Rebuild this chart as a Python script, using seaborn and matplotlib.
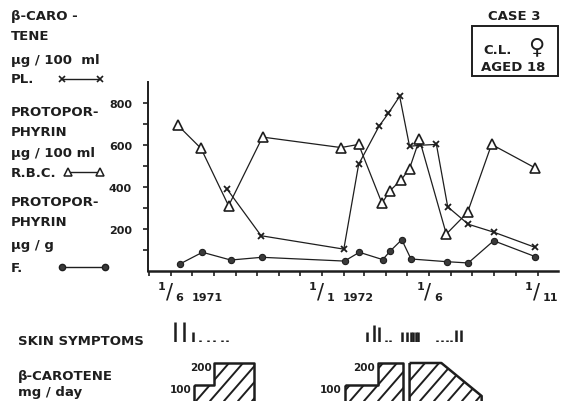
import matplotlib
matplotlib.use("Agg")
import matplotlib.pyplot as plt
import matplotlib.dates as mdates
from matplotlib.lines import Line2D
from matplotlib.patches import Rectangle
from matplotlib.transforms import IdentityTransform
import pandas as pd
import seaborn as sns

# Plasma beta-carotene, µg/100 ml
carotene_dates = ["1971-08-20", "1971-10-07", "1972-02-01", "1972-02-22", "1972-03-22",
                  "1972-04-04", "1972-04-20", "1972-05-04", "1972-05-19", "1972-06-11",
                  "1972-06-27", "1972-07-26", "1972-09-01", "1972-10-29"]
carotene_values = [388, 166, 102, 507, 690, 750, 832, 593, 598, 602, 304, 221, 182, 110]

# Erythrocyte protoporphyrin, µg/100 ml R.B.C.
rbc_dates = ["1971-06-11", "1971-07-14", "1971-08-22", "1971-10-09", "1972-01-28",
             "1972-02-22", "1972-03-26", "1972-04-06", "1972-04-22", "1972-05-04",
             "1972-05-18", "1972-06-25", "1972-07-25", "1972-08-28", "1972-10-28"]
rbc_values = [694, 583, 309, 637, 587, 602, 321, 380, 432, 487, 626, 174, 277, 602, 491]

# Faecal protoporphyrin, µg/g
faeces_dates = ["1971-06-14", "1971-07-16", "1971-08-25", "1971-10-08", "1972-02-02",
                "1972-02-23", "1972-03-27", "1972-04-07", "1972-04-23", "1972-05-06",
                "1972-06-26", "1972-07-26", "1972-08-31", "1972-10-29"]
faeces_values = [31, 87, 50, 63, 45, 87, 52, 94, 147, 55, 42, 36, 142, 66]

# Skin symptoms (severity grade per observation)
skin_dates = ["1971-06-07", "1971-06-20", "1971-07-02", "1971-07-13", "1971-07-24",
              "1971-08-02", "1971-08-12", "1971-08-20",
              "1972-03-05", "1972-03-15", "1972-03-22", "1972-04-01", "1972-04-07",
              "1972-04-24", "1972-04-30", "1972-05-06", "1972-05-09", "1972-05-13",
              "1972-05-16", "1972-06-12", "1972-06-19", "1972-06-26", "1972-07-02",
              "1972-07-09", "1972-07-16"]
skin_grades = [4, 4, 2, 0.5, 0.5, 0.5, 0.5, 0.5,
               2, 3.4, 3, 0.5, 0.5,
               2, 2, 2, 2, 2,
               2, 0.5, 0.5, 0.5, 0.5,
               2.4, 2.4]

# Beta-carotene dosage, mg/day
dose1_dates = ["1971-07-04", "1971-08-02", "1971-08-02", "1971-09-27"]
dose1_mg = [100, 100, 200, 200]
dose2_dates = ["1972-02-02", "1972-03-20", "1972-03-20", "1972-04-25"]
dose2_mg = [100, 100, 200, 200]
dose3_dates = ["1972-05-04", "1972-06-18", "1972-08-14", "1972-08-14"]
dose3_mg = [200, 200, 50, 0]

# Date labels on the time axis
label_dates = ["1971-06-01", "1972-01-01", "1972-06-01", "1972-11-01"]
label_days = ["1", "1", "1", "1"]
label_months = ["6", "1", "6", "11"]
label_years = ["1971", "1972", "", ""]

y_major = [200, 400, 600, 800]
y_minor = [100, 300, 500, 700]

sns.set_style("white")
plt.rcParams["font.family"] = ["DejaVu Sans"]
INK = "#1e1e1e"

W, H = 564, 402
fig = plt.figure(figsize=(W / 100, H / 100), dpi=100)
fig.patch.set_facecolor("white")


def fx(px):
    return px / W


def fy(py):
    return 1 - py / H


left, right = 148, 558
ax = fig.add_axes([fx(left), fy(271.5), fx(right - left), (271.5 - 83) / H])

line_kw = dict(color=INK, linewidth=0.9, estimator=None, ax=ax, legend=False)
df_car = pd.DataFrame({"date": pd.to_datetime(carotene_dates), "value": carotene_values})
df_rbc = pd.DataFrame({"date": pd.to_datetime(rbc_dates), "value": rbc_values})
df_fae = pd.DataFrame({"date": pd.to_datetime(faeces_dates), "value": faeces_values})

sns.lineplot(data=df_car, x="date", y="value", marker="x", markersize=4.5,
             markeredgewidth=1.3, markeredgecolor=INK, **line_kw)
sns.lineplot(data=df_rbc, x="date", y="value", marker="^", markersize=7.5,
             markerfacecolor="white", markeredgecolor=INK, markeredgewidth=1.2, **line_kw)
sns.lineplot(data=df_fae, x="date", y="value", marker="o", markersize=4.5,
             markerfacecolor="#3a3a3a", markeredgecolor=INK, markeredgewidth=0.8, **line_kw)

ax.set_ylim(0, 900)
ax.set_xlim(pd.Timestamp("1971-04-30"), pd.Timestamp("1972-11-30"))
ax.set_xlabel("")
ax.set_ylabel("")
for side in ("top", "right"):
    ax.spines[side].set_visible(False)
ax.spines["left"].set_linewidth(1.4)
ax.spines["bottom"].set_linewidth(1.8)
ax.spines["left"].set_color(INK)
ax.spines["bottom"].set_color(INK)

ax.set_yticks(y_major)
ax.set_yticks(y_minor, minor=True)
ax.set_yticklabels([str(v) for v in y_major], fontsize=8, fontweight="bold", color=INK)
ax.tick_params(axis="y", which="both", direction="out", length=3.6, width=1.2,
               color=INK, pad=8, left=True)

ax.xaxis.set_major_locator(mdates.MonthLocator())
ax.xaxis.set_major_formatter(plt.NullFormatter())
ax.tick_params(axis="x", which="both", direction="out", length=3.6, width=1.2,
               color=INK, bottom=True)
ax.grid(False)

# Hand-lettered style date labels: day / month, with year alongside
for when, num, den, year in zip(label_dates, label_days, label_months, label_years):
    x = mdates.date2num(pd.Timestamp(when))
    base = dict(xy=(x, 0), xycoords=("data", "axes fraction"),
                textcoords="offset points", annotation_clip=False, color=INK)
    ax.annotate(num, xytext=(-3.6, -11), ha="right", va="center",
                fontsize=8, fontweight="bold", **base)
    ax.annotate("/", xytext=(-1, -15), ha="center", va="center",
                fontsize=15, **base)
    ax.annotate(den, xytext=(3.6, -19), ha="left", va="center",
                fontsize=8, fontweight="bold", **base)
    if year:
        ax.annotate(year, xytext=(15, -19), ha="left", va="center",
                    fontsize=8, fontweight="bold", **base)

# Skin symptoms strip
ax_skin = fig.add_axes([fx(left), fy(343), fx(right - left), 20 / H], sharex=ax)
ax_skin.vlines(pd.to_datetime(skin_dates), 0, skin_grades, color=INK, linewidth=1.8)
ax_skin.set_ylim(0, 4)
ax_skin.axis("off")

# Beta-carotene dosage strip, outlined and hand-hatched
ax_dose = fig.add_axes([fx(left), 0, fx(right - left), 52 / H], sharex=ax)
for dates, mg in ((dose1_dates, dose1_mg), (dose2_dates, dose2_mg), (dose3_dates, dose3_mg)):
    d = pd.to_datetime(dates)
    coll = ax_dose.fill_between(d, 0, mg, facecolor="none", edgecolor=INK,
                                linewidth=1.8, zorder=3)
    clip = coll.get_paths()[0]
    for k in range(-10, 45):
        x0 = k * 14
        hatch = Line2D([x0, x0 + 120], [0, 120 * 1.15], transform=IdentityTransform(),
                       color=INK, linewidth=1.4, zorder=2)
        hatch.set_clip_path(clip, ax_dose.transData)
        ax_dose.add_artist(hatch)
ax_dose.set_ylim(27.3, 263.6)
ax_dose.axis("off")

for dates, mg in ((dose1_dates, dose1_mg), (dose2_dates, dose2_mg)):
    d = pd.to_datetime(dates)
    for level in (100, 200):
        i = mg.index(level)
        ax_dose.annotate(str(level), xy=(d[i], level), xytext=(-2, -3),
                         textcoords="offset points", ha="right", va="center",
                         fontsize=7.5, fontweight="bold", color=INK,
                         annotation_clip=False)

# Left-hand captions
txt = dict(fontsize=9.5, fontweight="bold", color=INK, ha="left", va="baseline")
captions = [
    ("β-CARO -", 20), ("TENE", 40), ("µg / 100  ml", 64), ("PL.", 83),
    ("PROTOPOR-", 116), ("PHYRIN", 136), ("µg / 100 ml", 157), ("R.B.C.", 177),
    ("PROTOPOR-", 206), ("PHYRIN", 226), ("µg / g", 249), ("F.", 272),
]
for s, py in captions:
    fig.text(fx(11), fy(py), s, **txt)

# Key samples next to the captions
keys = [((62, 100), 80, dict(marker="x", markersize=4, markeredgewidth=1.2)),
        ((68, 100), 173, dict(marker="^", markersize=6, markerfacecolor="white",
                              markeredgewidth=1.1)),
        ((62, 105), 268, dict(marker="o", markersize=4.5, markerfacecolor="#3a3a3a"))]
for (x0, x1), py, mk in keys:
    fig.add_artist(Line2D([fx(x0), fx(x1)], [fy(py), fy(py)], color=INK,
                          linewidth=1.0, markeredgecolor=INK, **mk))

fig.text(fx(18), fy(345), "SKIN SYMPTOMS", **txt)
fig.text(fx(18), fy(380), "β-CAROTENE", **txt)
fig.text(fx(18), fy(396), "mg / day", **txt)

# Case box
fig.text(fx(514), fy(20), "CASE 3", fontsize=9.5, fontweight="bold", color=INK,
         ha="center", va="baseline")
fig.add_artist(Rectangle((fx(472), fy(77)), fx(558 - 472), (77 - 27) / H,
                         fill=False, edgecolor=INK, linewidth=1.4,
                         transform=fig.transFigure))
fig.text(fx(483), fy(54), "C.L.", **txt)
fig.text(fx(536), fy(47), "♀", fontsize=16, fontweight="bold", color=INK,
         ha="center", va="center")
fig.text(fx(481), fy(71), "AGED 18", **txt)

fig.savefig("out.png", dpi=100, facecolor="white")
